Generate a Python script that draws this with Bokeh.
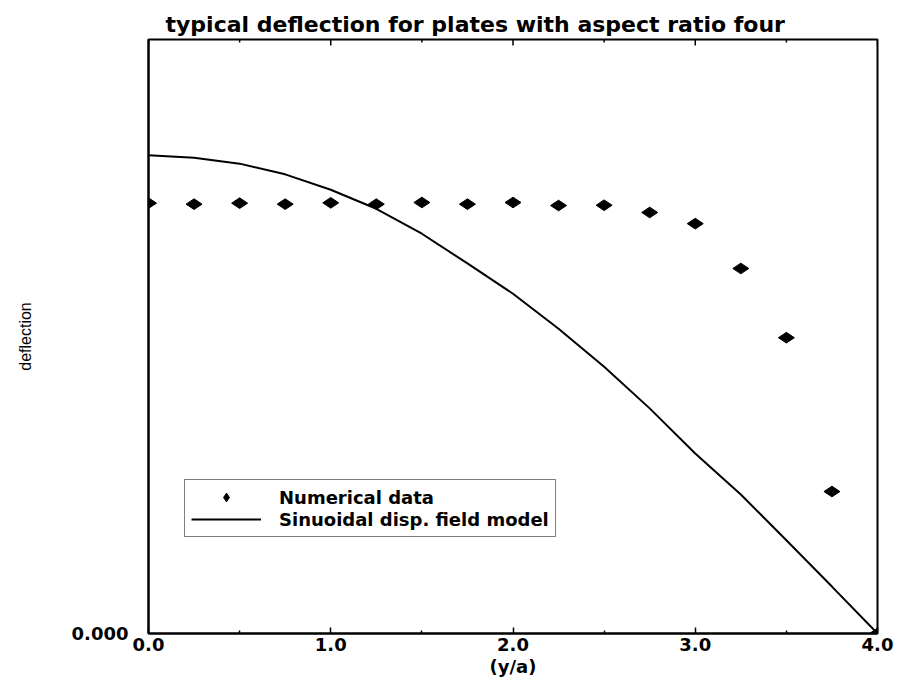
import math
from bokeh.plotting import figure
from bokeh.models import Range1d, FixedTicker, Legend, LegendItem
from bokeh.embed import file_html
from bokeh.resources import INLINE

# ---- data ----
x_ratio = [0.0, 0.25, 0.5, 0.75, 1.0, 1.25, 1.5, 1.75, 2.0,
           2.25, 2.5, 2.75, 3.0, 3.25, 3.5, 3.75, 4.0]
numerical = [0.7245, 0.7228, 0.7245, 0.7228, 0.7250, 0.7228, 0.7256, 0.7228, 0.7256,
             0.7205, 0.7210, 0.7088, 0.6900, 0.6145, 0.4980, 0.2390, 0.0]
sinusoidal = [0.805, 0.801, 0.791, 0.773, 0.747, 0.715, 0.673, 0.623, 0.572,
              0.513, 0.449, 0.379, 0.303, 0.234, 0.157, 0.079, 0.0]
x_tick_values = [0, 1, 2, 3, 4]
x_tick_labels = ["0.0", "1.0", "2.0", "3.0", "4.0"]
x_minor_ticks = [0.5, 1.5, 2.5, 3.5]
y_tick_values = [0]
y_tick_labels = ["0.000"]
y_min, y_max = 0.0, 1.0

BOLD = "DejaVu Sans"

p = figure(width=899, height=681, x_range=Range1d(0, 4), y_range=Range1d(y_min, y_max),
           output_backend="svg", toolbar_location=None,
           min_border_left=148, min_border_right=22, min_border_top=39, min_border_bottom=48)
p.xgrid.visible = False
p.ygrid.visible = False
p.outline_line_color = "black"
p.outline_line_width = 2
p.background_fill_color = "white"
p.border_fill_color = "white"

# title
p.title.text = "typical deflection for plates with aspect ratio four"
p.title.text_font = BOLD
p.title.text_font_style = "bold"
p.title.text_font_size = "22px"
p.title.text_color = "black"
p.title.align = "left"
p.title.offset = 17
p.title.standoff = 6

# bottom axis
xa = p.xaxis[0]
xa.ticker = FixedTicker(ticks=x_tick_values, minor_ticks=x_minor_ticks)
xa.major_label_overrides = {v: l for v, l in zip(x_tick_values, x_tick_labels)}
xa.major_label_text_font = BOLD
xa.major_label_text_font_style = "bold"
xa.major_label_text_font_size = "18px"
xa.major_label_text_color = "black"
xa.major_label_standoff = 4
xa.major_tick_in = 6
xa.major_tick_out = 0
xa.minor_tick_in = 3
xa.minor_tick_out = 0
xa.axis_line_width = 2
xa.axis_line_color = "black"
xa.major_tick_line_width = 1.5
xa.minor_tick_line_width = 1.5
xa.axis_label = "(y/a)"
xa.axis_label_text_font = BOLD
xa.axis_label_text_font_style = "bold"
xa.axis_label_text_font_size = "18px"
xa.axis_label_text_color = "black"
xa.axis_label_standoff = 2

# left axis
ya = p.yaxis[0]
ya.ticker = FixedTicker(ticks=y_tick_values, minor_ticks=[])
ya.major_label_overrides = {v: l for v, l in zip(y_tick_values, y_tick_labels)}
ya.major_label_text_font = BOLD
ya.major_label_text_font_style = "bold"
ya.major_label_text_font_size = "18px"
ya.major_label_text_color = "black"
ya.major_label_standoff = 20
ya.major_tick_in = 0
ya.major_tick_out = 0
ya.minor_tick_in = 0
ya.minor_tick_out = 0
ya.axis_line_width = 2
ya.axis_line_color = "black"
ya.axis_label = "deflection"
ya.axis_label_text_font = "Liberation Sans"
ya.axis_label_text_font_style = "normal"
ya.axis_label_text_font_size = "16px"
ya.axis_label_text_color = "black"
ya.axis_label_standoff = 35

# inward tick marks along the top edge (same ticks as the bottom axis)
p.scatter(x_tick_values, [y_max] * len(x_tick_values), marker="dash", size=12,
          angle=math.pi / 2, line_color="black", line_width=1.5)
p.scatter(x_minor_ticks, [y_max] * len(x_minor_ticks), marker="dash", size=6,
          angle=math.pi / 2, line_color="black", line_width=1.5)

# data
ln = p.line(x_ratio, sinusoidal, line_color="black", line_width=2)
sc = p.scatter(x_ratio, numerical, marker="diamond", size=16, angle=math.pi / 2,
               fill_color="black", line_color="black")

legend = Legend(items=[LegendItem(label="Numerical data", renderers=[sc]),
                       LegendItem(label="Sinuoidal disp. field model", renderers=[ln])],
                location=(36, 96))
legend.label_text_font = BOLD
legend.label_text_font_style = "bold"
legend.label_text_font_size = "18px"
legend.label_text_color = "black"
legend.border_line_color = "black"
legend.border_line_width = 1.5
legend.glyph_width = 70
legend.glyph_height = 22
legend.label_height = 12
legend.spacing = 0
legend.padding = 6
legend.margin = 0
legend.label_standoff = 18
p.add_layout(legend, "center")

open("out.html", "w").write(file_html(p, INLINE))
